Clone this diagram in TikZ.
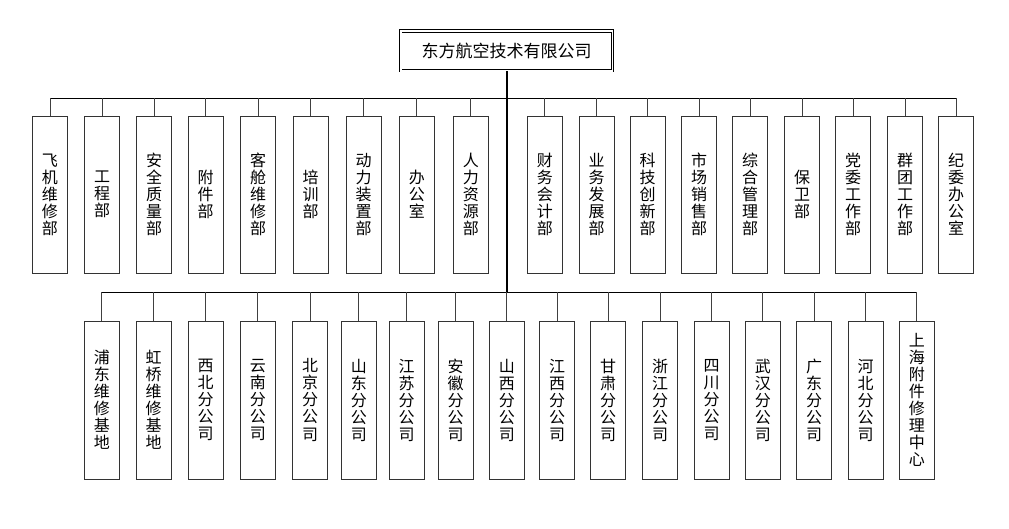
\documentclass[tikz,border=0pt]{standalone}
\usepackage{fontspec}
\setmainfont{Noto Sans CJK SC}
\XeTeXlinebreaklocale "zh"
\XeTeXlinebreakskip=0pt plus 1pt
\tikzset{
  dept/.style={rectangle,draw=black!80,line width=1pt,minimum width=35pt,text width=17pt,align=center,inner sep=0pt,font=\fontsize{16}{17}\selectfont},
  link/.style={draw=black!75,line width=0.9pt},
  bus/.style={draw=black,line width=0.9pt}
}
\begin{document}
\begin{tikzpicture}[x=1pt,y=-1pt]
\useasboundingbox (0,0) rectangle (1009,528);
%\draw[help lines,step=50] (0,0) grid (1009,528);
\node[rectangle,draw,double,double distance=1.8pt,line width=0.7pt,minimum width=211.8pt,minimum height=39.8pt,font=\fontsize{17}{17}\selectfont] (head) at (506.5,50.8) {东方航空技术有限公司};

\coordinate (bus1) at (507,98.3);
\coordinate (bus2) at (507,292.3);

\foreach \x/\t [count=\i] in {50/飞机维修部, 102/工程部, 154/安全质量部, 205.5/附件部, 258/客舱维修部, 310.5/培训部, 363.7/动力装置部, 416.8/办公室, 470.8/人力资源部, 544.8/财务会计部, 596.5/业务发展部, 647.5/科技创新部, 699/市场销售部, 750/综合管理部, 802/保卫部, 853/党委工作部, 905/群团工作部, 956/纪委办公室}
  \node[dept,minimum height=157pt] (t\i) at (\x,194.5) {\t};

\foreach \x/\t [count=\i] in {101.8/浦东维修基地, 153.5/虹桥维修基地, 205.5/西北分公司, 257.8/云南分公司, 310/北京分公司, 358.8/山东分公司, 406.7/江苏分公司, 455.5/安徽分公司, 506.8/山西分公司, 557/江西分公司, 608/甘肃分公司, 660/浙江分公司, 711.5/四川分公司, 762.8/武汉分公司, 814/广东分公司, 865.5/河北分公司, 916.8/上海附件修理中心}
  \node[dept,minimum height=158pt] (b\i) at (\x,400) {\t};

\draw[line width=2pt] (head.south) -- (head.south |- bus2);
\draw[bus] (t1.north |- bus1) -- (t18.north |- bus1);
\foreach \i in {1,...,18}
  \draw[link] (t\i.north) -- (t\i.north |- bus1);
\draw[bus] (b1.north |- bus2) -- (b17.north |- bus2);
\foreach \i in {1,...,17}
  \draw[link] (b\i.north) -- (b\i.north |- bus2);
\end{tikzpicture}
\end{document}
